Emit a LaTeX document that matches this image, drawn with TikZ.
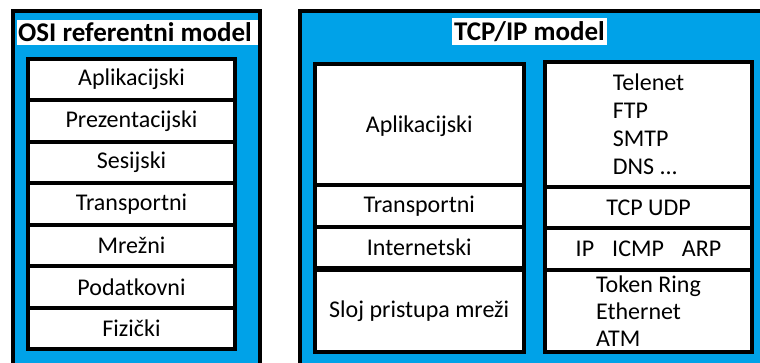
\documentclass[tikz,border=0pt]{standalone}
\usepackage{fontspec}
\setmainfont{Carlito}
\definecolor{paintblue}{RGB}{0,162,232}

\begin{document}
\begin{tikzpicture}[x=1pt, y=-1pt,
        layer/.style={draw, line width=4pt, fill=white, inner sep=0pt, font=\fontsize{24}{28}\selectfont},
        titlebox/.style={fill=white, inner sep=1pt, font=\fontsize{27}{30}\selectfont\bfseries}]
            \useasboundingbox (0,0) rectangle (760,363);
            \clip (0,0) rectangle (760,363);

            % outer frames
            \draw[fill=paintblue, line width=4pt] (12.5,11.5) rectangle (259.5,380);
            \draw[fill=paintblue, line width=4pt] (300,11.5) rectangle (790,380);
            \fill[white] (17,20) rectangle (258,45);
            \node[titlebox, fill=none] (osititle) at (135,32.5) {OSI referentni model};
            \node[titlebox, minimum width=155pt, minimum height=27pt] (tcptitle) at (529.5,31.5) {TCP/IP model};

            % OSI layers
            \foreach \lbl [count=\i] in {Aplikacijski, Prezentacijski, Sesijski, Transportni, Mrežni, Podatkovni, Fizički}
                {
                    \node[layer, minimum width=207pt, minimum height=41.43pt] (osi\i) at (131.5,{59+41.43*(\i-0.5)}) {\lbl};
                }

            % TCP/IP layers
            \node[layer, minimum width=208.5pt, minimum height=124pt] (tcpapp) at (419.25,126) {Aplikacijski};
            \node[layer, minimum width=208.5pt, minimum height=41.5pt] (tcptrans) at (419.25,206.25) {Transportni};
            \node[layer, minimum width=208.5pt, minimum height=41pt] (tcpnet) at (419.25,247.5) {Internetski};
            \node[layer, minimum width=208.5pt, minimum height=82pt] (tcplink) at (419.25,311) {Sloj pristupa mreži};

            % protocols
            \node[layer, minimum width=207pt, minimum height=124.5pt, align=left] (protoapp) at (648.5,124.75) {Telenet\\FTP\\SMTP\\DNS ...};
            \node[layer, minimum width=207pt, minimum height=41.5pt] (prototrans) at (648.5,207.75) {TCP UDP};
            \node[layer, minimum width=207pt, minimum height=41.5pt] (protonet) at (648.5,249.25) {IP\hspace{18pt}ICMP\hspace{18pt}ARP};
            \node[layer, minimum width=207pt, minimum height=82pt, align=left, font=\fontsize{24}{27}\selectfont] (protolink) at (648.5,311) {Token Ring\\Ethernet\\ATM};
        \end{tikzpicture}
\end{document}
